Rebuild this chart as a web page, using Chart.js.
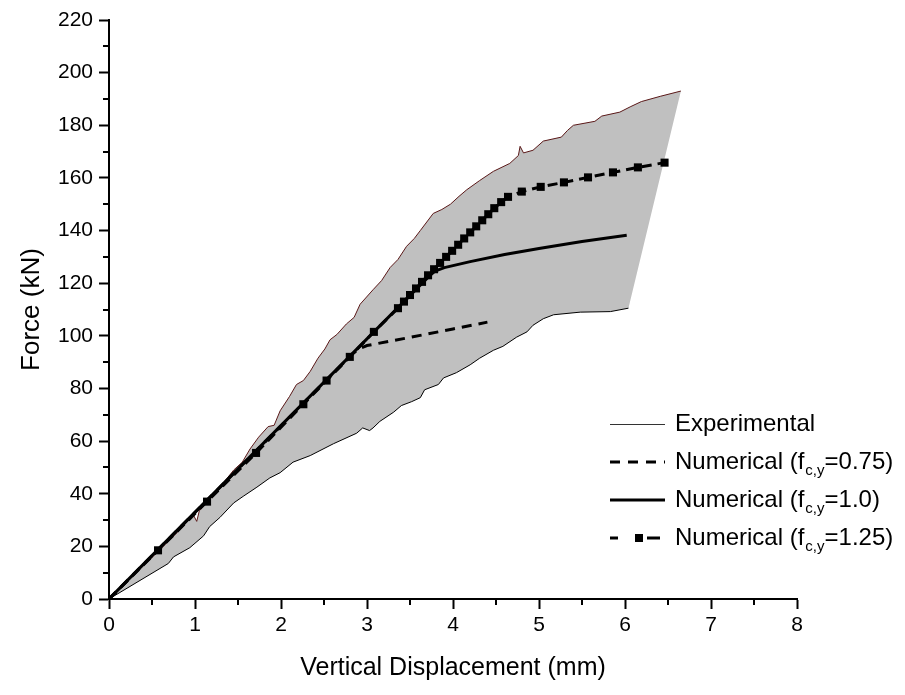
<!DOCTYPE html>
<html>
<head>
<meta charset="utf-8">
<script src="https://cdn.jsdelivr.net/npm/chart.js@4.4.0/dist/chart.umd.min.js"></script>
<style>
  html, body { margin:0; padding:0; background:#fff; }
  #wrap { width:905px; height:695px; }
</style>
</head>
<body>
<div id="wrap"><canvas id="grafica" width="905" height="695"></canvas></div>
<script>
const FUENTE = "'Liberation Sans', Arial, sans-serif";

// ticks
const ticksX = [0, 1, 2, 3, 4, 5, 6, 7, 8];
const ticksY = [0, 20, 40, 60, 80, 100, 120, 140, 160, 180, 200, 220];
const menoresX = [0.5, 1.5, 2.5, 3.5, 4.5, 5.5, 6.5, 7.5];
const menoresY = [10, 30, 50, 70, 90, 110, 130, 150, 170, 190, 210];

// envolvente experimental (borde superior e inferior)
const expSupX = [0, 0.3, 0.57, 0.83, 0.98, 1.02, 1.05, 1.15, 1.29, 1.45, 1.55, 1.64, 1.74, 1.85, 1.92, 1.99,
  2.10, 2.18, 2.26, 2.34, 2.43, 2.51, 2.57, 2.65, 2.76, 2.85, 2.92, 3.07, 3.17, 3.27, 3.36, 3.46, 3.55,
  3.62, 3.77, 3.87, 3.97, 4.07, 4.16, 4.31, 4.47, 4.66, 4.76, 4.78, 4.82, 4.93, 5.05, 5.26, 5.33, 5.40,
  5.65, 5.73, 5.94, 6.06, 6.19, 6.41, 6.65];
const expSupY = [0, 9.5, 18, 26.5, 32, 29.5, 33.5, 37, 42.5, 49, 52, 57, 61.5, 65.5, 66, 71.5,
  77, 81.5, 83, 86.5, 91.5, 95, 98.5, 100.5, 104.5, 107, 112, 117.5, 121, 126, 129, 134, 137,
  140, 146.5, 148, 150, 153, 155.5, 159, 162.5, 165.5, 168.5, 172, 169.5, 170.5, 174, 175.5, 178, 180,
  181.5, 183.5, 185, 187, 189, 191, 193];

const expInfX = [0, 0.69, 0.75, 0.94, 1.10, 1.17, 1.29, 1.45, 1.56, 1.72, 1.87, 1.99, 2.14, 2.34, 2.61,
  2.88, 2.95, 3.03, 3.07, 3.15, 3.31, 3.40, 3.52, 3.62, 3.67, 3.83, 3.89, 4.04, 4.20, 4.31, 4.47, 4.58,
  4.74, 4.86, 4.93, 5.05, 5.17, 5.48, 5.83, 6.04];
const expInfY = [0, 13.5, 16, 19.5, 24, 27.5, 31, 36.5, 39, 42.5, 46, 48, 52, 54.5, 59,
  63, 65, 64, 65, 67.5, 71, 73.5, 75, 76.5, 79.5, 81.5, 84, 86, 89, 91.5, 94.5, 96,
  99.5, 101.5, 104, 106.5, 108, 109, 109.2, 110.5];

// modelos numericos
const num075X = [0, 2.82, 2.9, 3.0, 3.5, 4.0, 4.4];
const num075Y = [0, 92.8, 95.0, 96.3, 99.4, 102.6, 105.2];

const num100X = [0, 3.72, 3.79, 3.9, 4.2, 4.6, 5.0, 5.5, 6.02];
const num100Y = [0, 122.6, 124.6, 125.9, 128.2, 130.9, 133.2, 135.8, 138.2];

const num125X = [0, 0.57, 1.14, 1.71, 2.26, 2.53, 2.80, 3.08, 3.36, 3.43, 3.50, 3.57, 3.64, 3.71, 3.78,
  3.85, 3.92, 3.99, 4.06, 4.13, 4.20, 4.27, 4.34, 4.41, 4.48, 4.56, 4.64, 4.80, 5.02, 5.29, 5.57, 5.86,
  6.15, 6.46];
const num125Y = [0, 18.5, 37, 55.5, 74, 83, 92, 101.5, 110.5, 113, 115.5, 118, 120.5, 123, 125.3,
  127.7, 130, 132.3, 134.6, 137, 139.3, 141.6, 143.9, 146.2, 148.5, 150.8, 152.8, 154.8, 156.6, 158.3,
  160.2, 162.1, 164, 165.8];

// leyenda: texto, subindice, final
const leyendaTexto = ["Experimental", "Numerical (f", "Numerical (f", "Numerical (f"];
const leyendaSub = ["", "c,y", "c,y", "c,y"];
const leyendaFin = ["", "=0.75)", "=1.0)", "=1.25)"];

function puntos(xs, ys){
  return xs.map((x, i) => ({x: x, y: ys[i]}));
}

// poligono cerrado: borde superior ida, borde inferior vuelta
const poligono = puntos(expSupX, expSupY).concat(puntos(expInfX, expInfY).reverse());

const marcasMenores = {
  id: "marcasMenores",
  afterDraw(chart){
    const ctx = chart.ctx;
    const xs = chart.scales.x, ys = chart.scales.y;
    const area = chart.chartArea;
    ctx.save();
    ctx.strokeStyle = "#000";
    ctx.lineWidth = 2;
    ctx.beginPath();
    menoresY.forEach(v => {
      const p = Math.round(ys.getPixelForValue(v));
      ctx.moveTo(area.left - 6, p);
      ctx.lineTo(area.left, p);
    });
    menoresX.forEach(v => {
      const p = Math.round(xs.getPixelForValue(v));
      ctx.moveTo(p, area.bottom);
      ctx.lineTo(p, area.bottom + 6);
    });
    ctx.stroke();
    ctx.restore();
  }
};

const leyendaPropia = {
  id: "leyendaPropia",
  afterDraw(chart){
    const ctx = chart.ctx;
    const filas = [424, 462, 500, 538];
    const x0 = 610, x1 = 665, xt = 675;
    ctx.save();
    filas.forEach((y, i) => {
      ctx.beginPath();
      ctx.setLineDash([]);
      if(i === 0){
        ctx.strokeStyle = "#333";
        ctx.lineWidth = 1;
        ctx.moveTo(x0, y + 0.5); ctx.lineTo(x1, y + 0.5);
      } else if(i === 1){
        ctx.strokeStyle = "#000";
        ctx.lineWidth = 3;
        ctx.setLineDash([10, 8]);
        ctx.moveTo(x0, y); ctx.lineTo(x1, y);
      } else if(i === 2){
        ctx.strokeStyle = "#000";
        ctx.lineWidth = 3;
        ctx.moveTo(x0, y); ctx.lineTo(x1, y);
      } else {
        ctx.strokeStyle = "#000";
        ctx.lineWidth = 3;
        ctx.moveTo(x0, y); ctx.lineTo(x0 + 8, y);
        ctx.moveTo(x0 + 37, y); ctx.lineTo(x1 - 5, y);
      }
      ctx.stroke();
      if(i === 3){
        ctx.fillStyle = "#000";
        ctx.fillRect(635, y - 4, 8, 8);
      }
      ctx.fillStyle = "#000";
      ctx.textBaseline = "middle";
      ctx.textAlign = "left";
      ctx.font = "24px " + FUENTE;
      ctx.fillText(leyendaTexto[i], xt, y);
      let w = ctx.measureText(leyendaTexto[i]).width;
      if(leyendaSub[i]){
        ctx.font = "15px " + FUENTE;
        ctx.fillText(leyendaSub[i], xt + w + 1, y + 9);
        w += ctx.measureText(leyendaSub[i]).width + 1;
        ctx.font = "24px " + FUENTE;
        ctx.fillText(leyendaFin[i], xt + w, y);
      }
    });
    ctx.restore();
  }
};

new Chart(document.getElementById("grafica"), {
  type: "scatter",
  data: {
    datasets: [
      {
        label: "Numerical (fc,y=1.25)",
        data: puntos(num125X, num125Y),
        showLine: true,
        borderColor: "#000",
        backgroundColor: "#000",
        borderWidth: 3,
        borderDash: [10, 6],
        pointStyle: "rect",
        pointRadius: ctx => ctx.dataIndex === 0 ? 0 : 5.7,
        pointBorderWidth: 0,
        order: 1
      },
      {
        label: "Numerical (fc,y=1.0)",
        data: puntos(num100X, num100Y),
        showLine: true,
        borderColor: "#000",
        borderWidth: 3,
        pointRadius: 0,
        order: 2
      },
      {
        label: "Numerical (fc,y=0.75)",
        data: puntos(num075X, num075Y),
        showLine: true,
        borderColor: "#000",
        borderWidth: 3,
        borderDash: [10, 7],
        pointRadius: 0,
        order: 3
      },
      {
        label: "Experimental sup",
        data: puntos(expSupX, expSupY),
        showLine: true,
        borderColor: "#5a1818",
        borderWidth: 1,
        pointRadius: 0,
        order: 4
      },
      {
        label: "Experimental inf",
        data: puntos(expInfX, expInfY),
        showLine: true,
        borderColor: "#000",
        borderWidth: 1,
        pointRadius: 0,
        order: 4
      },
      {
        label: "Experimental",
        data: poligono,
        showLine: true,
        borderWidth: 0,
        borderColor: "rgba(0,0,0,0)",
        backgroundColor: "#c0c0c0",
        fill: "shape",
        pointRadius: 0,
        order: 5
      }
    ]
  },
  options: {
    responsive: false,
    animation: false,
    devicePixelRatio: 1,
    layout: { padding: { left: 0, right: 108, top: 20, bottom: 0 } },
    plugins: {
      legend: { display: false },
      tooltip: { enabled: false }
    },
    scales: {
      x: {
        type: "linear",
        min: 0, max: 8,
        afterBuildTicks: s => { s.ticks = ticksX.map(v => ({value: v})); },
        afterFit: s => { s.height = 96; },
        border: { display: true, color: "#000", width: 2 },
        grid: { drawOnChartArea: false, drawTicks: true, tickLength: 10, tickColor: "#000", tickWidth: 2 },
        ticks: { color: "#000", padding: 4, maxRotation: 0, font: { family: FUENTE, size: 21 } },
        title: {
          display: true, text: "Vertical Displacement (mm)", color: "#000",
          font: { family: FUENTE, size: 25 }, padding: { top: 0, bottom: 12 }
        }
      },
      y: {
        type: "linear",
        min: 0, max: 220,
        afterBuildTicks: s => { s.ticks = ticksY.map(v => ({value: v})); },
        afterFit: s => { s.width = 109; },
        border: { display: true, color: "#000", width: 2 },
        grid: { drawOnChartArea: false, drawTicks: true, tickLength: 10, tickColor: "#000", tickWidth: 2 },
        ticks: { color: "#000", padding: 6, font: { family: FUENTE, size: 21 } },
        title: {
          display: true, text: "Force (kN)", color: "#000",
          font: { family: FUENTE, size: 26 }, padding: { top: 16, bottom: 0 }
        }
      }
    }
  },
  plugins: [marcasMenores, leyendaPropia]
});
</script>
</body>
</html>
